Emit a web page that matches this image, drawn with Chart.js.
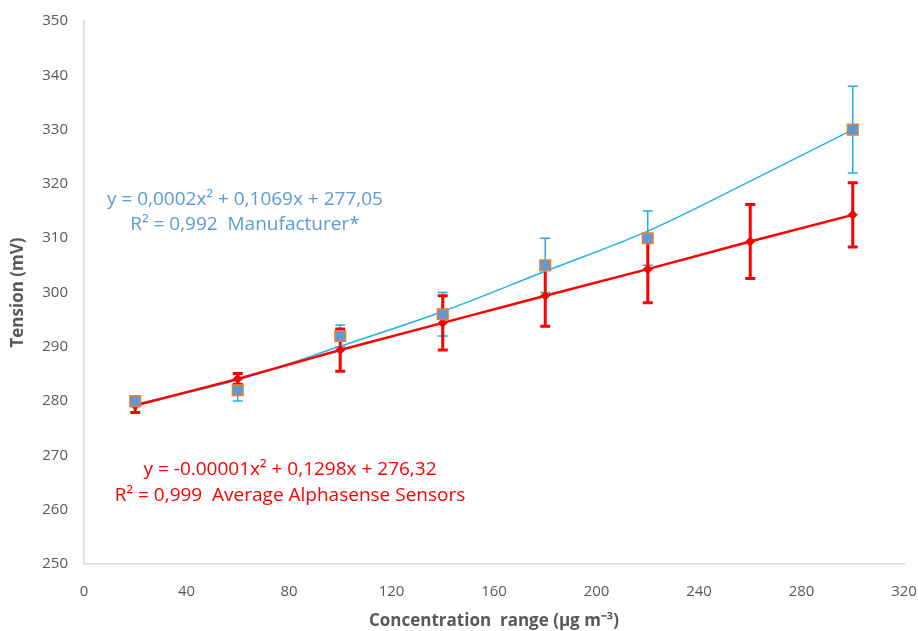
<!DOCTYPE html>
<html>
<head>
<meta charset="utf-8">
<script src="https://cdn.jsdelivr.net/npm/chart.js@4"></script>
<style>
  html, body { margin: 0; padding: 0; background: #fff; }
  #wrap { width: 918px; height: 631px; }
</style>
</head>
<body>
<div id="wrap"><canvas id="chart"></canvas></div>
<script>
// Manufacturer calibration points
const manuConc = [20, 60, 100, 140, 180, 220, 300];
const manuVals = [280, 282, 292, 296, 305, 310, 330];
const manuErr = [1, 2, 2, 4, 5, 5, 8];

// Manufacturer polynomial trend line
const manuTrendConc = [20, 60, 100, 140, 180, 220, 260, 300];
const manuTrendVals = [279.4, 283.9, 290.1, 296.5, 303.9, 311.3, 320.5, 330.0];

// Average Alphasense sensors
const alphaConc = [20, 60, 100, 140, 180, 220, 260, 300];
const alphaVals = [279.2, 284.1, 289.4, 294.4, 299.4, 304.3, 309.4, 314.3];
const alphaErr = [1.3, 1, 3.9, 5, 5.6, 6.2, 6.8, 5.9];

const xTicks = [0, 40, 80, 120, 160, 200, 240, 280, 320];

const manuLabel = ['y = 0,0002x² + 0,1069x + 277,05', 'R² = 0,992  Manufacturer*'];
const alphaLabel = ['y = -0.00001x² + 0,1298x + 276,32', 'R² = 0,999  Average Alphasense Sensors'];

const toXY = (xs, ys) => xs.map((x, i) => ({ x: x, y: ys[i] }));

const errorBars = {
  id: 'errorBars',
  beforeDatasetsDraw(chart) {
    const { ctx, scales: { x, y } } = chart;
    const sets = [
      { xs: manuConc, ys: manuVals, es: manuErr, color: '#1FADE3', width: 1.5, cap: 5 },
      { xs: alphaConc, ys: alphaVals, es: alphaErr, color: '#FF0000', width: 3, cap: 5 }
    ];
    ctx.save();
    sets.forEach(s => {
      ctx.strokeStyle = s.color;
      ctx.lineWidth = s.width;
      s.xs.forEach((v, i) => {
        const px = x.getPixelForValue(v);
        const top = y.getPixelForValue(s.ys[i] + s.es[i]);
        const bot = y.getPixelForValue(s.ys[i] - s.es[i]);
        ctx.beginPath();
        ctx.moveTo(px, top); ctx.lineTo(px, bot);
        ctx.moveTo(px - s.cap, top); ctx.lineTo(px + s.cap, top);
        ctx.moveTo(px - s.cap, bot); ctx.lineTo(px + s.cap, bot);
        ctx.stroke();
      });
    });
    ctx.restore();
  }
};

const equations = {
  id: 'equations',
  afterDatasetsDraw(chart) {
    const { ctx, scales: { x, y } } = chart;
    ctx.save();
    ctx.font = '19px "Open Sans", sans-serif';
    ctx.textAlign = 'center';
    ctx.textBaseline = 'middle';
    ctx.fillStyle = '#5B9BD5';
    ctx.fillText(manuLabel[0], x.getPixelForValue(62.8), y.getPixelForValue(317.1));
    ctx.fillText(manuLabel[1], x.getPixelForValue(62.8), y.getPixelForValue(312.5));
    ctx.fillStyle = '#FF0000';
    ctx.fillText(alphaLabel[0], x.getPixelForValue(80.4), y.getPixelForValue(267.4));
    ctx.fillText(alphaLabel[1], x.getPixelForValue(80.4), y.getPixelForValue(262.6));
    ctx.restore();
  }
};

new Chart(document.getElementById('chart'), {
  type: 'scatter',
  data: {
    datasets: [
      {
        label: 'Manufacturer trend',
        data: toXY(manuTrendConc, manuTrendVals),
        showLine: true,
        borderColor: '#1FB4E8',
        borderWidth: 1.5,
        pointRadius: 0,
        cubicInterpolationMode: 'monotone',
        order: 3
      },
      {
        label: 'Average Alphasense Sensors',
        data: toXY(alphaConc, alphaVals),
        showLine: true,
        borderColor: '#FF0000',
        backgroundColor: '#FF0000',
        borderWidth: 2.5,
        pointStyle: 'rectRot',
        pointRadius: 4.5,
        pointBorderWidth: 1,
        order: 2
      },
      {
        label: 'Manufacturer',
        data: toXY(manuConc, manuVals),
        showLine: false,
        backgroundColor: '#5B9BD5',
        borderColor: '#ED7D31',
        borderWidth: 1.5,
        pointStyle: 'rect',
        pointRadius: 7.5,
        order: 1
      }
    ]
  },
  options: {
    responsive: true,
    maintainAspectRatio: false,
    animation: false,
    layout: { padding: { left: 8, right: 14, top: 21, bottom: 0 } },
    plugins: {
      legend: { display: false },
      tooltip: { enabled: false }
    },
    scales: {
      x: {
        type: 'linear',
        min: 0,
        max: 320,
        afterBuildTicks(scale) {
          scale.ticks = xTicks.map(v => ({ value: v }));
        },
        grid: { display: false, drawTicks: false },
        border: { color: '#D9D9D9', width: 1.5 },
        ticks: {
          color: '#595959',
          padding: 19,
          font: { family: '"Open Sans", sans-serif', size: 15 }
        },
        title: {
          display: true,
          text: 'Concentration  range (µg m⁻³)',
          color: '#595959',
          padding: { top: 10, bottom: 0 },
          font: { family: '"Open Sans", sans-serif', size: 17, weight: 'bold' }
        },
        afterFit(scale) {
          scale.height = 67;
          scale.paddingLeft = 0;
          scale.paddingRight = 0;
        }
      },
      y: {
        min: 250,
        max: 350,
        ticks: {
          stepSize: 10,
          color: '#595959',
          padding: 16,
          font: { family: '"Open Sans", sans-serif', size: 15 }
        },
        grid: { display: false, drawTicks: false },
        border: { color: '#D9D9D9', width: 1.5 },
        title: {
          display: true,
          text: 'Tension (mV)',
          color: '#595959',
          padding: { top: 0, bottom: 4 },
          font: { family: '"Open Sans", sans-serif', size: 17, weight: 'bold' }
        },
        afterFit(scale) {
          scale.width = 76;
          scale.paddingTop = 0;
          scale.paddingBottom = 0;
        }
      }
    }
  },
  plugins: [errorBars, equations]
});
</script>
</body>
</html>
